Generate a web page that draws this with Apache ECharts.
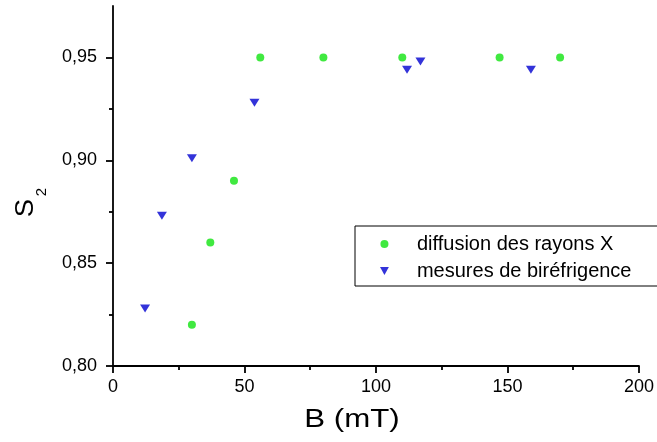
<!DOCTYPE html>
<html><head><meta charset="utf-8">
<script src="https://cdn.jsdelivr.net/npm/echarts@6/dist/echarts.min.js"></script>
<style>html,body{margin:0;padding:0;background:#fff}#c{width:657px;height:442px}</style>
</head><body><div id="c"></div>
<script>
const seriesNames = ['diffusion des rayons X', 'mesures de biréfrigence'];
const xrayB = [30, 37, 46, 56, 80, 110, 147, 170];
const xrayS = [0.82, 0.86, 0.89, 0.95, 0.95, 0.95, 0.95, 0.95];
const biroB = [12.2, 18.6, 30, 53.8, 111.8, 116.9, 158.9];
const biroS = [0.828, 0.873, 0.901, 0.928, 0.944, 0.948, 0.944];
const yMajorTicks = [0.80, 0.85, 0.90, 0.95];
const yMinorTicks = [0.825, 0.875, 0.925];
const xTitle = 'B (mT)';
const yTitleMain = 'S';
const yTitleSub = '2';

const FONT = '"Liberation Sans", Arial, sans-serif';
const triPath = 'path://M0,0L10,0L5,9Z';
const chart = echarts.init(document.getElementById('c'), null, {renderer: 'canvas'});
const gridBox = {left: 113, right: 14, top: 6, bottom: 76};
const fmt = v => v.toFixed(2).replace('.', ',');
const axisLineStyle = {color: '#000', width: 1.8};

chart.setOption({
  animation: false,
  backgroundColor: '#fff',
  grid: [Object.assign({}, gridBox), Object.assign({}, gridBox)],
  xAxis: [{
    type: 'value', gridIndex: 0, min: 0, max: 200, interval: 50,
    axisLine: {show: true, onZero: false, lineStyle: axisLineStyle},
    axisTick: {show: true, inside: false, length: 7, lineStyle: axisLineStyle},
    minorTick: {show: true, splitNumber: 2, length: 4, lineStyle: axisLineStyle},
    axisLabel: {color: '#000', fontSize: 18, fontFamily: FONT, margin: 12},
    splitLine: {show: false}
  }, {
    type: 'value', gridIndex: 1, min: 0, max: 200, show: false
  }],
  yAxis: [{
    type: 'value', gridIndex: 0, min: 0.8, max: 0.975,
    axisLine: {show: true, onZero: false, lineStyle: axisLineStyle},
    axisTick: {show: true, inside: false, length: 7, customValues: yMajorTicks, lineStyle: axisLineStyle},
    axisLabel: {color: '#000', fontSize: 18, fontFamily: FONT, margin: 16, customValues: yMajorTicks, formatter: fmt},
    splitLine: {show: false}
  }, {
    type: 'value', gridIndex: 1, min: 0.8, max: 0.975,
    axisLine: {show: false},
    axisTick: {show: true, inside: false, length: 4, customValues: yMinorTicks, lineStyle: axisLineStyle},
    axisLabel: {show: false},
    splitLine: {show: false}
  }],
  legend: {
    orient: 'vertical', left: 355, top: 226,
    borderColor: '#000', borderWidth: 1, backgroundColor: '#fff',
    padding: [8, 40, 5, 25], itemGap: 7, itemWidth: 9, itemHeight: 8,
    textStyle: {color: '#000', fontSize: 20, fontFamily: FONT, lineHeight: 20, padding: [0, 0, 0, 23]},
    data: [{name: seriesNames[0], icon: 'circle'}, {name: seriesNames[1], icon: triPath}]
  },
  series: [{
    name: seriesNames[0], type: 'scatter', xAxisIndex: 0, yAxisIndex: 0,
    symbol: 'circle', symbolSize: 8, itemStyle: {color: '#10e410'},
    data: xrayB.map((b, i) => [b, xrayS[i]])
  }, {
    name: seriesNames[1], type: 'scatter', xAxisIndex: 0, yAxisIndex: 0,
    symbol: triPath, symbolSize: [10, 8], itemStyle: {color: '#0000d0'},
    data: biroB.map((b, i) => [b, biroS[i]])
  }],
  graphic: [{
    type: 'text', x: 352, y: 420, scaleX: 1.25,
    style: {text: xTitle, fontSize: 25, fontFamily: FONT, fill: '#000', align: 'center', verticalAlign: 'middle'}
  }, {
    type: 'group', x: 26, y: 208, rotation: Math.PI / 2,
    children: [{
      type: 'text', x: 0, y: 0, scaleX: 1.1,
      style: {text: yTitleMain, fontSize: 25, fontFamily: FONT, fill: '#000', align: 'center', verticalAlign: 'middle'}
    }, {
      type: 'text', x: 16, y: 16,
      style: {text: yTitleSub, fontSize: 15, fontFamily: FONT, fill: '#000', align: 'center', verticalAlign: 'middle'}
    }]
  }]
});
</script></body></html>
